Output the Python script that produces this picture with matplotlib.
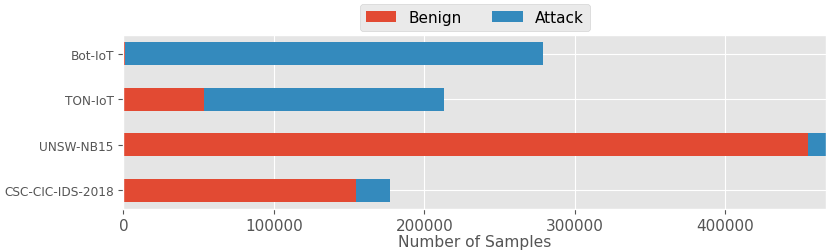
import matplotlib
matplotlib.use("Agg")
import matplotlib.pyplot as plt
import numpy as np

plt.style.use("ggplot")

datasets = ["CSC-CIC-IDS-2018", "UNSW-NB15", "TON-IoT", "Bot-IoT"]
benign = [154500, 455000, 53500, 1000]
attack = [22500, 12000, 159500, 278000]
series_names = ["Benign", "Attack"]
colors = ["#E24A33", "#348ABD"]

fig = plt.figure(figsize=(8.31, 2.53), dpi=100)
ax = fig.add_axes([0.1486, 0.170, 0.8454, 0.6877])

y = np.arange(len(datasets))
ax.barh(y, benign, height=0.5, color=colors[0], label=series_names[0])
ax.barh(y, attack, left=benign, height=0.5, color=colors[1], label=series_names[1])

ax.set_yticks(y)
ax.set_yticklabels(datasets, fontsize=8.7)
ax.set_ylim(-0.41, 3.41)
totals = np.array(benign) + np.array(attack)
ax.set_xlim(0, totals.max())
ax.set_xticks([0, 100000, 200000, 300000, 400000])
ax.set_xticklabels(["0", "100000", "200000", "300000", "400000"], fontsize=11)
ax.set_xlabel("Number of Samples", fontsize=11.2, color="#555555", labelpad=1)
ax.tick_params(axis="x", pad=3)

ax.legend(loc="lower center", bbox_to_anchor=(0.5, 1.0), ncol=2, fontsize=11,
          frameon=True, borderaxespad=0.26, columnspacing=2.0, handlelength=2.0,
          handletextpad=0.8)

fig.savefig("out.png", dpi=100)
